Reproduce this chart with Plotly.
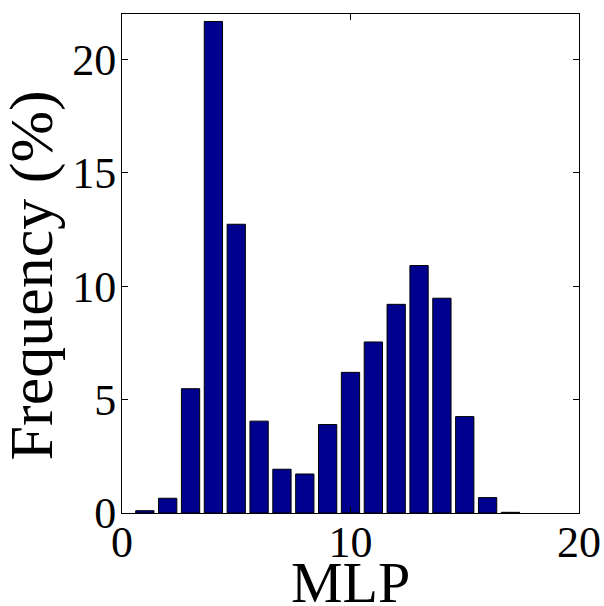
import plotly.graph_objects as go

mlp = list(range(1, 18))
freq = [0.1, 0.65, 5.48, 21.67, 12.73, 4.05, 1.93, 1.72, 3.90, 6.20,
        7.54, 9.20, 10.91, 9.47, 4.25, 0.68, 0.03]
x_ticks = [0, 10, 20]
y_ticks = [0, 5, 10, 15, 20]
x_title = "MLP"
y_title = "Frequency (%)"

font_family = "Liberation Serif"

fig = go.Figure()
fig.add_trace(go.Bar(
    x=mlp, y=freq, width=0.8,
    marker=dict(color="#00008F", line=dict(color="black", width=1)),
))

axis_common = dict(
    ticks="inside", ticklen=6, tickcolor="black", showline=True,
    linecolor="black", linewidth=1, mirror="ticks", showgrid=False,
    zeroline=False, automargin=False,
    tickfont=dict(size=44, family=font_family),
)

fig.update_layout(
    width=604, height=606,
    margin=dict(l=122, r=25, t=14, b=93),
    paper_bgcolor="white", plot_bgcolor="white",
    showlegend=False,
    font=dict(family=font_family, color="black", size=44),
    xaxis=dict(range=[0, 20], tickvals=x_ticks, ticklabelstandoff=-10, **axis_common),
    yaxis=dict(range=[0, 22], tickvals=y_ticks, ticklabelstandoff=-4, **axis_common),
    annotations=[
        dict(text=x_title, xref="paper", yref="paper", x=0.5, y=-0.1383,
             xanchor="center", yanchor="middle", showarrow=False,
             font=dict(size=58, family=font_family)),
        dict(text=y_title, xref="paper", yref="paper", x=-0.196, y=0.477,
             xanchor="center", yanchor="middle", showarrow=False, textangle=-90,
             font=dict(size=62, family=font_family)),
    ],
)

fig.write_html(
    "out.html",
    config={"displayModeBar": False},
    post_script="document.body.style.margin='0';document.body.style.overflow='hidden';",
)
